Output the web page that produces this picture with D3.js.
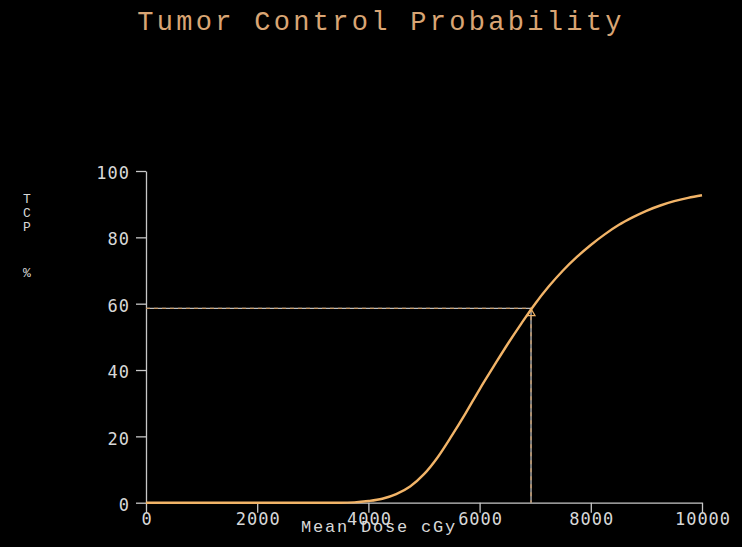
<!DOCTYPE html>
<html>
<head>
<meta charset="utf-8">
<script src="https://cdn.jsdelivr.net/npm/d3@7"></script>
<style>
  html, body { margin: 0; padding: 0; background: #000; }
  svg { display: block; }
</style>
</head>
<body>
<svg id="chart" width="742" height="547"></svg>
<script>
// ---- Data ----
const doseValues = [0, 500, 1000, 1500, 2000, 2500, 3000, 3500, 3750, 4000, 4250, 4500, 4750, 5000, 5250, 5500, 5750, 6000, 6250, 6500, 6750, 7000, 7250, 7500, 7750, 8000, 8250, 8500, 8750, 9000, 9250, 9500, 9750, 10000];
const tcpValues  = [0, 0, 0, 0, 0, 0, 0, 0, 0.1, 0.5, 1.2, 2.6, 4.9, 8.6, 13.8, 20.2, 27.0, 34.2, 41.0, 47.7, 54.0, 60.0, 65.3, 70.0, 74.1, 77.7, 80.9, 83.7, 86.0, 88.0, 89.6, 90.9, 91.9, 92.7];
const xTickValues = [0, 2000, 4000, 6000, 8000, 10000];
const yTickValues = [0, 20, 40, 60, 80, 100];
const refDose = [6925];
const refTcp = [58.6];
const titleText = "Tumor Control Probability";
const xLabelText = "Mean Dose cGy";
const yLabelChars = ["T", "C", "P", "%"];

// ---- Layout ----
const svg = d3.select("#chart");
svg.append("rect").attr("width", 742).attr("height", 547).attr("fill", "#000");

const x = d3.scaleLinear().domain([0, 10000]).range([146, 702]);
const y = d3.scaleLinear().domain([0, 100]).range([502.7, 171]);

const axisColor = "#c8c8c8";
const labelColor = "#d8d8d8";
const curveColor = "#f2b468";
const titleColor = "#d9a574";
const tickFont = "'DejaVu Sans Mono', monospace";
const serifMono = "'Liberation Mono', 'Courier New', monospace";

// Title
svg.append("text")
  .attr("x", 381).attr("y", 30)
  .attr("text-anchor", "middle")
  .attr("font-family", serifMono)
  .attr("font-size", 27)
  .attr("letter-spacing", 3.3)
  .attr("fill", titleColor)
  .text(titleText);

// Axes
const xAxis = d3.axisBottom(x).tickValues(xTickValues).tickSize(10).tickSizeOuter(0).tickPadding(0).tickFormat(d3.format("d"));
const yAxis = d3.axisLeft(y).tickValues(yTickValues).tickSize(10).tickSizeOuter(0).tickPadding(6).tickFormat(d3.format("d"));

const gx = svg.append("g").attr("transform", `translate(0,${y(0)})`).call(xAxis);
const gy = svg.append("g").attr("transform", `translate(${x(0)},0)`).call(yAxis);

[gx, gy].forEach(g => {
  g.select(".domain").attr("stroke", axisColor).attr("stroke-width", 1.3);
  g.selectAll(".tick line").attr("stroke", axisColor).attr("stroke-width", 1.3);
  g.selectAll(".tick text")
    .attr("fill", labelColor)
    .attr("font-family", tickFont)
    .attr("font-size", 17)
    .attr("letter-spacing", 1);
});
gx.selectAll(".tick text").attr("dx", 0.5);
gy.selectAll(".tick text").attr("dy", "0.45em");

// Axis labels
svg.append("text")
  .attr("x", 379).attr("y", 532)
  .attr("text-anchor", "middle")
  .attr("font-family", serifMono)
  .attr("font-size", 17)
  .attr("letter-spacing", 1.8)
  .attr("fill", labelColor)
  .text(xLabelText);

const yLabelY = [203, 217, 231, 277];
svg.append("g").selectAll("text").data(yLabelChars).join("text")
  .attr("x", 27)
  .attr("y", (d, i) => yLabelY[i])
  .attr("text-anchor", "middle")
  .attr("font-family", serifMono)
  .attr("font-size", 13)
  .attr("fill", labelColor)
  .text(d => d);

// Reference lines (gray with tan dashes)
const rx = x(refDose[0]), ry = y(refTcp[0]);
const refG = svg.append("g");
refG.append("line").attr("x1", x(0)).attr("x2", rx).attr("y1", ry).attr("y2", ry)
  .attr("stroke", "#bdbdbd").attr("stroke-width", 1.3);
refG.append("line").attr("x1", x(0)).attr("x2", rx).attr("y1", ry).attr("y2", ry)
  .attr("stroke", "#c79a6a").attr("stroke-width", 1.3).attr("stroke-dasharray", "4,4");
refG.append("line").attr("x1", rx).attr("x2", rx).attr("y1", ry).attr("y2", y(0))
  .attr("stroke", "#bdbdbd").attr("stroke-width", 1.3);
refG.append("line").attr("x1", rx).attr("x2", rx).attr("y1", ry).attr("y2", y(0))
  .attr("stroke", "#c79a6a").attr("stroke-width", 1.3).attr("stroke-dasharray", "4,4");

// Curve
const data = doseValues.map((d, i) => ({ dose: d, tcp: tcpValues[i] }));
const line = d3.line().x(d => x(d.dose)).y(d => y(d.tcp)).curve(d3.curveMonotoneX);
svg.append("path").datum(data)
  .attr("d", line)
  .attr("fill", "none")
  .attr("stroke", curveColor)
  .attr("stroke-width", 2.4);

// Marker triangle
svg.append("path")
  .attr("d", d3.symbol().type(d3.symbolTriangle).size(28)())
  .attr("transform", `translate(${rx},${ry + 5})`)
  .attr("fill", "none")
  .attr("stroke", curveColor)
  .attr("stroke-width", 1.2);
</script>
</body>
</html>
